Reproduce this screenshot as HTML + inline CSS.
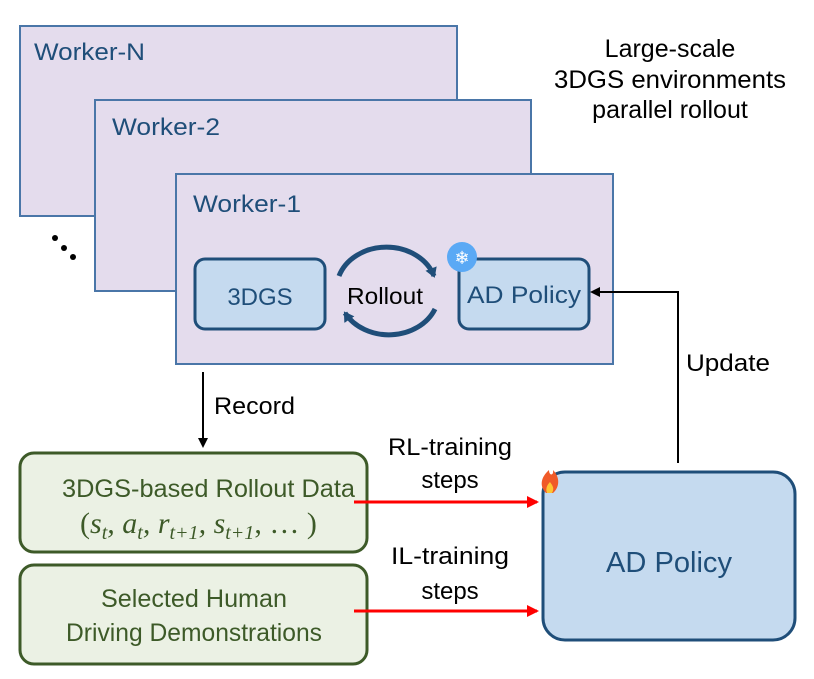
<!DOCTYPE html>
<html><head><meta charset="utf-8"><style>
html,body{margin:0;padding:0;background:#fff;}
svg{display:block;font-family:"Liberation Sans",sans-serif;}
</style></head><body>
<svg width="814" height="679" viewBox="0 0 814 679" xmlns="http://www.w3.org/2000/svg">
<defs>
<marker id="ab" markerWidth="10" markerHeight="10" refX="8" refY="5" orient="auto" markerUnits="userSpaceOnUse"><path d="M0,0 L10,5 L0,10 z" fill="#000"/></marker>
<marker id="ar" markerWidth="12" markerHeight="12" refX="10" refY="6" orient="auto" markerUnits="userSpaceOnUse"><path d="M0,0 L12,6 L0,12 z" fill="#f00"/></marker>
<marker id="abl" markerWidth="12" markerHeight="12" refX="8" refY="6" orient="auto" markerUnits="userSpaceOnUse"><path d="M0,0 L10,6 L0,12 z" fill="#1f4e79"/></marker>
</defs>
<rect x="20" y="26" width="437" height="190" fill="#e4dced" stroke="#4a76a8" stroke-width="2"/>
<text x="34" y="60" font-size="24" textLength="111" lengthAdjust="spacingAndGlyphs" fill="#1f4e79">Worker-N</text>
<rect x="95" y="100" width="436" height="191" fill="#e4dced" stroke="#4a76a8" stroke-width="2"/>
<text x="112" y="135" font-size="24" textLength="108" lengthAdjust="spacingAndGlyphs" fill="#1f4e79">Worker-2</text>
<rect x="176" y="174" width="437" height="190" fill="#e4dced" stroke="#4a76a8" stroke-width="2"/>
<text x="193" y="212" font-size="24" textLength="108" lengthAdjust="spacingAndGlyphs" fill="#1f4e79">Worker-1</text>
<circle cx="55" cy="238" r="3" fill="#000"/><circle cx="64" cy="248" r="3" fill="#000"/><circle cx="73" cy="257" r="3" fill="#000"/>
<text x="670" y="57" font-size="25" text-anchor="middle" fill="#000">Large-scale</text>
<text x="670" y="88" font-size="25" text-anchor="middle" textLength="232" lengthAdjust="spacingAndGlyphs" fill="#000">3DGS environments</text>
<text x="670" y="118" font-size="25" text-anchor="middle" fill="#000">parallel rollout</text>
<rect x="195" y="259" width="130" height="70" rx="10" fill="#c5daef" stroke="#1f4e79" stroke-width="3"/>
<text x="260" y="305" font-size="24" text-anchor="middle" fill="#1f4e79">3DGS</text>
<rect x="459" y="259" width="130" height="70" rx="10" fill="#c5daef" stroke="#1f4e79" stroke-width="3"/>
<text x="524" y="303" font-size="24" text-anchor="middle" textLength="114" lengthAdjust="spacingAndGlyphs" fill="#1f4e79">AD Policy</text>
<path d="M339,276 A50,42 0 0 1 434,276" fill="none" stroke="#1f4e79" stroke-width="5" marker-end="url(#abl)"/>
<path d="M435,309 A50,42 0 0 1 345,313" fill="none" stroke="#1f4e79" stroke-width="5" marker-end="url(#abl)"/>
<text x="385" y="304" font-size="23" text-anchor="middle" textLength="76" lengthAdjust="spacingAndGlyphs" fill="#000">Rollout</text>
<circle cx="462" cy="257" r="15" fill="#5aa9f5"/>
<text x="462" y="264" font-size="18" text-anchor="middle" fill="#fff">❄</text>
<path d="M678,463 L678,292 L592,292" fill="none" stroke="#000" stroke-width="2" marker-end="url(#ab)"/>
<text x="686" y="371" font-size="24" textLength="84" lengthAdjust="spacingAndGlyphs" fill="#000">Update</text>
<path d="M203,372 L203,446" fill="none" stroke="#000" stroke-width="2" marker-end="url(#ab)"/>
<text x="214" y="414" font-size="24" textLength="81" lengthAdjust="spacingAndGlyphs" fill="#000">Record</text>
<rect x="20" y="453" width="347" height="99" rx="14" fill="#ebf1e4" stroke="#3d5a28" stroke-width="3"/>
<text x="62" y="497" font-size="25" textLength="293" lengthAdjust="spacingAndGlyphs" fill="#3d5a28">3DGS-based Rollout Data</text>
<text x="80" y="533" font-size="30" font-family="Liberation Serif,serif" font-style="italic" fill="#3d5a28"><tspan font-style="normal">(</tspan>s<tspan font-size="20" dy="6">t</tspan><tspan dy="-6">, a</tspan><tspan font-size="20" dy="6">t</tspan><tspan dy="-6">, r</tspan><tspan font-size="20" dy="6">t+1</tspan><tspan dy="-6">, s</tspan><tspan font-size="20" dy="6">t+1</tspan><tspan dy="-6" font-style="normal">, … )</tspan></text>
<rect x="20" y="565" width="347" height="99" rx="14" fill="#ebf1e4" stroke="#3d5a28" stroke-width="3"/>
<text x="194" y="607" font-size="25" text-anchor="middle" textLength="186" lengthAdjust="spacingAndGlyphs" fill="#3d5a28">Selected Human</text>
<text x="194" y="641" font-size="25" text-anchor="middle" textLength="256" lengthAdjust="spacingAndGlyphs" fill="#3d5a28">Driving Demonstrations</text>
<text x="450" y="455" font-size="24" text-anchor="middle" textLength="124" lengthAdjust="spacingAndGlyphs" fill="#000">RL-training</text>
<text x="450" y="488" font-size="24" text-anchor="middle" fill="#000">steps</text>
<text x="450" y="564" font-size="24" text-anchor="middle" textLength="118" lengthAdjust="spacingAndGlyphs" fill="#000">IL-training</text>
<text x="450" y="599" font-size="24" text-anchor="middle" fill="#000">steps</text>
<path d="M354,502 L537,502" stroke="#f00" stroke-width="3" marker-end="url(#ar)"/>
<path d="M354,611 L537,611" stroke="#f00" stroke-width="3" marker-end="url(#ar)"/>
<rect x="543" y="472" width="252" height="168" rx="22" fill="#c5daef" stroke="#1f4e79" stroke-width="3"/>
<text x="669" y="572" font-size="29" text-anchor="middle" textLength="126" lengthAdjust="spacingAndGlyphs" fill="#1f4e79">AD Policy</text>
<path d="M546,493 C539,486 541,477 549,470 C549,476 554,476 553,470 C560,477 560,487 553,493 Z" fill="#f05a28"/>
<path d="M547,493 C545,488 548,484 550,482 C552,485 555,488 552,493 Z" fill="#ffc531"/>
</svg>
</body></html>
